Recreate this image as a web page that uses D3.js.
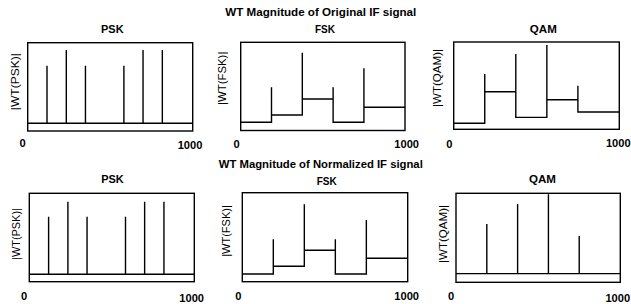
<!DOCTYPE html>
<html>
<head>
<meta charset="utf-8">
<script src="https://cdn.jsdelivr.net/npm/d3@7"></script>
<style>
  body { margin: 0; background: #fff; }
  svg { display: block; font-family: "Liberation Sans", Arial, sans-serif; }
</style>
</head>
<body>
<svg id="chart" width="631" height="304"></svg>
<script>
// data (x in samples 0..1000, y as fraction of the axes height)
const rowTitles = ["WT Magnitude of Original IF signal", "WT Magnitude of Normalized IF signal"];
const panelNames = ["PSK", "FSK", "QAM"];
const xTickLabels = ["0", "1000"];

const pskSpikeX = [117, 234, 350, 583, 699, 816];
const pskOrigBase = 0.087;
const pskOrigPeaks = [0.74, 0.917, 0.74, 0.74, 0.917, 0.917];
const pskNormBase = 0.084;
const pskNormPeaks = [0.735, 0.905, 0.735, 0.735, 0.905, 0.905];

const symbolEdges = [187.5, 375, 562.5, 750];
const fskOrigLevels = [0.093, 0.176, 0.357, 0.093, 0.263];
const fskOrigPeaks = [0.49, 0.882, 0.49, 0.705];
const fskNormLevels = [0.087, 0.173, 0.353, 0.087, 0.263];
const fskNormPeaks = [0.476, 0.87, 0.476, 0.693];
const qamOrigLevels = [0.069, 0.43, 0.137, 0.339, 0.198];
const qamOrigPeaks = [0.633, 0.863, 0.966, 0.5];
const qamNormLevels = [0.097, 0.097, 0.097, 0.097, 0.097];
const qamNormPeaks = [0.655, 0.88, 0.989, 0.52];

// layout of the six axes boxes
const boxes = [
  [{ x0: 27.7, x1: 192.7, y0: 42.7, y1: 131 },
   { x0: 240.7, x1: 405, y0: 42.3, y1: 130.5 },
   { x0: 453.7, x1: 619.3, y0: 42, y1: 129.3 }],
  [{ x0: 29.3, x1: 194.3, y0: 193.3, y1: 281.7 },
   { x0: 242.3, x1: 407.7, y0: 192.7, y1: 281.7 },
   { x0: 456, x1: 620.3, y0: 193.3, y1: 282.3 }]
];
const titleY = [12.3, 164];
const subPos = [[[112.3, 29.3], [325, 29.3], [543.3, 29.3]],
                [[112.5, 179.3], [326.7, 180.7], [542.5, 179.3]]];
const ylabPos = [[[15, 81.7], [222.3, 78.3], [436.7, 78]],
                 [[15.7, 234], [225.7, 231], [443.3, 234]]];
const zeroPos = [[[22.7, 142.7], [236.7, 144.3], [449.3, 144]],
                 [[24, 295.7], [238.3, 295.7], [451, 295.7]]];
const endPos = [[[190, 145], [406.7, 144.3], [618.3, 143.3]],
                [[191.7, 298], [406.7, 295.7], [617.8, 297.7]]];
const subLen = { PSK: 22.5, FSK: 20, QAM: 27 };
const ylabLen = [[57, 53.3, 58], [51.7, 51.7, 58]];

function spikePoints(base, xs, peaks) {
  const pts = [[0, base]];
  xs.forEach((x, i) => { pts.push([x, base], [x, peaks[i]], [x, base]); });
  pts.push([1000, base]);
  return pts;
}

function stepPoints(levels, peaks, edges) {
  const pts = [[0, levels[0]]];
  edges.forEach((e, i) => { pts.push([e, levels[i]], [e, peaks[i]], [e, levels[i + 1]]); });
  pts.push([1000, levels[levels.length - 1]]);
  return pts;
}

const series = [
  [spikePoints(pskOrigBase, pskSpikeX, pskOrigPeaks),
   stepPoints(fskOrigLevels, fskOrigPeaks, symbolEdges),
   stepPoints(qamOrigLevels, qamOrigPeaks, symbolEdges)],
  [spikePoints(pskNormBase, pskSpikeX, pskNormPeaks),
   stepPoints(fskNormLevels, fskNormPeaks, symbolEdges),
   stepPoints(qamNormLevels, qamNormPeaks, symbolEdges)]
];

const svg = d3.select("#chart");

rowTitles.forEach((t, r) => {
  svg.append("text")
    .attr("x", 320.8).attr("y", titleY[r])
    .attr("dominant-baseline", "central")
    .attr("text-anchor", "middle")
    .attr("font-size", 10.5).attr("font-weight", "bold")
    .attr("textLength", r === 0 ? 191 : 204)
    .attr("lengthAdjust", "spacingAndGlyphs")
    .text(t);
});

boxes.forEach((row, r) => {
  row.forEach((b, c) => {
    const x = d3.scaleLinear().domain([0, 1000]).range([b.x0, b.x1]);
    const y = d3.scaleLinear().domain([0, 1]).range([b.y1, b.y0]);
    const g = svg.append("g");

    g.append("path")
      .attr("d", d3.line().x(d => x(d[0])).y(d => y(d[1]))(series[r][c]))
      .attr("fill", "none")
      .attr("stroke", "#000")
      .attr("stroke-width", 1.4);

    g.append("rect")
      .attr("x", x(0)).attr("y", y(1))
      .attr("width", x(1000) - x(0)).attr("height", y(0) - y(1))
      .attr("fill", "none")
      .attr("stroke", "#000")
      .attr("stroke-width", 1.4);

    g.append("text")
      .attr("x", subPos[r][c][0]).attr("y", subPos[r][c][1])
      .attr("dominant-baseline", "central")
      .attr("text-anchor", "middle")
      .attr("font-size", 10.5).attr("font-weight", "bold")
      .attr("textLength", subLen[panelNames[c]])
      .attr("lengthAdjust", "spacingAndGlyphs")
      .text(panelNames[c]);

    g.append("text")
      .attr("transform", `translate(${ylabPos[r][c][0]},${ylabPos[r][c][1]}) rotate(-90)`)
      .attr("dominant-baseline", "central")
      .attr("text-anchor", "middle")
      .attr("font-size", 10.5)
      .attr("textLength", ylabLen[r][c])
      .attr("lengthAdjust", "spacingAndGlyphs")
      .text(`|WT(${panelNames[c]})|`);

    [zeroPos, endPos].forEach((pos, k) => {
      g.append("text")
        .attr("x", pos[r][c][0]).attr("y", pos[r][c][1])
        .attr("dominant-baseline", "central")
        .attr("text-anchor", "middle")
        .attr("font-size", 10.5).attr("font-weight", "bold")
        .attr("textLength", k === 0 ? 6.2 : 24.7)
        .attr("lengthAdjust", "spacingAndGlyphs")
        .text(xTickLabels[k]);
    });
  });
});
</script>
</body>
</html>
